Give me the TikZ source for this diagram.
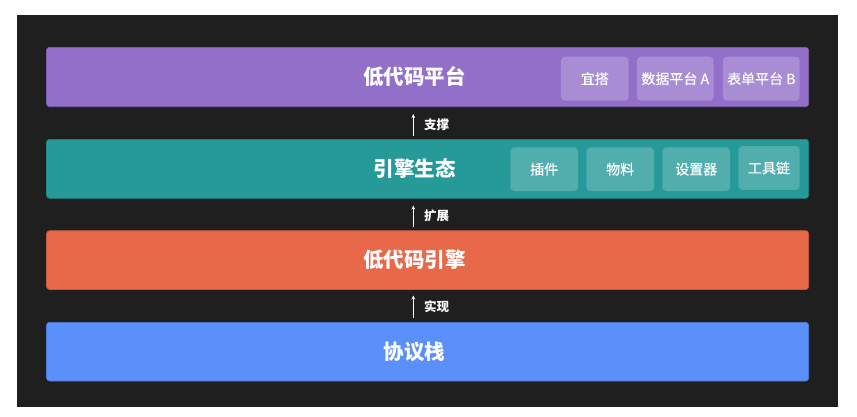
\documentclass[tikz,border=0pt]{standalone}
\usepackage{fontspec}
\setmainfont{Noto Sans CJK SC}
\newfontfamily\subfont{Noto Sans CJK SC}[FakeBold=0.4]
\usetikzlibrary{arrows.meta}
\definecolor{bgdark}{HTML}{1F1F1F}
\definecolor{cpurple}{HTML}{9270CA}
\definecolor{cteal}{HTML}{269A99}
\definecolor{corange}{HTML}{E8684A}
\definecolor{cblue}{HTML}{5B8FF9}
\definecolor{subpurple}{HTML}{A88DD5}
\definecolor{subteal}{HTML}{51AEAD}
\tikzset{
  layerbox/.style={rounded corners=3pt, draw=#1!85!black, line width=0.6pt, fill=#1},
  subbox/.style={rounded corners=4pt, fill=#1, text=white, font=\subfont\fontsize{14}{15}\selectfont},
  layertext/.style={text=white, font=\fontsize{20.5}{22}\selectfont\bfseries},
  arrowtext/.style={text=white, anchor=west, font=\fontsize{12.5}{13}\selectfont\bfseries},
  uparrow/.style={draw=white, line width=1pt, -{Stealth[length=4pt,width=3.6pt]}}
}
\begin{document}
\begin{tikzpicture}[x=1pt,y=-1pt]
\useasboundingbox (0,0) rectangle (857,416);
\fill[bgdark] (17,15) rectangle (838,406.5);
% layers
\draw[layerbox=cpurple] (46.5,47.3) rectangle (808.7,106.7);
\draw[layerbox=cteal] (46.5,139.3) rectangle (808.7,198.3);
\draw[layerbox=corange] (46.5,230.7) rectangle (808.7,289.5);
\draw[layerbox=cblue] (46.5,322.3) rectangle (808.7,381);
% layer labels
\node[layertext] (lp) at (414.5,77) {低代码平台};
\node[layertext] (le) at (414.5,169) {引擎生态};
\node[layertext] (lc) at (414.5,260) {低代码引擎};
\node[layertext] (ls) at (414.5,351.5) {协议栈};
% sub boxes purple
\node[subbox=subpurple, minimum width=67.7pt, minimum height=44pt] (yd) at (594.8,78.7) {宜搭};
\node[subbox=subpurple, minimum width=76.7pt, minimum height=44pt] (sj) at (675.3,78.7) {数据平台 A};
\node[subbox=subpurple, minimum width=76.7pt, minimum height=44pt] (bd) at (761.3,78.7) {表单平台 B};
% sub boxes teal
\node[subbox=subteal, minimum width=67.7pt, minimum height=43.7pt] (cj) at (544.2,169.2) {插件};
\node[subbox=subteal, minimum width=67.7pt, minimum height=43.7pt] (wl) at (620.2,169.2) {物料};
\node[subbox=subteal, minimum width=67.7pt, minimum height=43.7pt] (sz) at (696.2,169.2) {设置器};
\node[subbox=subteal, minimum width=61.4pt, minimum height=43.7pt] (gj) at (769,168) {工具链};
% arrows
\coordinate (a1s) at (413.3,135.8);
\coordinate (a1e) at (413.3,114);
\coordinate (a2s) at (413.3,227);
\coordinate (a2e) at (413.3,205.5);
\coordinate (a3s) at (413.3,318);
\coordinate (a3e) at (413.3,295.5);
\draw[uparrow] (a1s) -- (a1e);
\draw[uparrow] (a2s) -- (a2e);
\draw[uparrow] (a3s) -- (a3e);
\node[arrowtext] (t1) at (420.5,125) {支撑};
\node[arrowtext] (t2) at (420.5,216) {扩展};
\node[arrowtext] (t3) at (420.5,306.7) {实现};
\end{tikzpicture}
\end{document}
